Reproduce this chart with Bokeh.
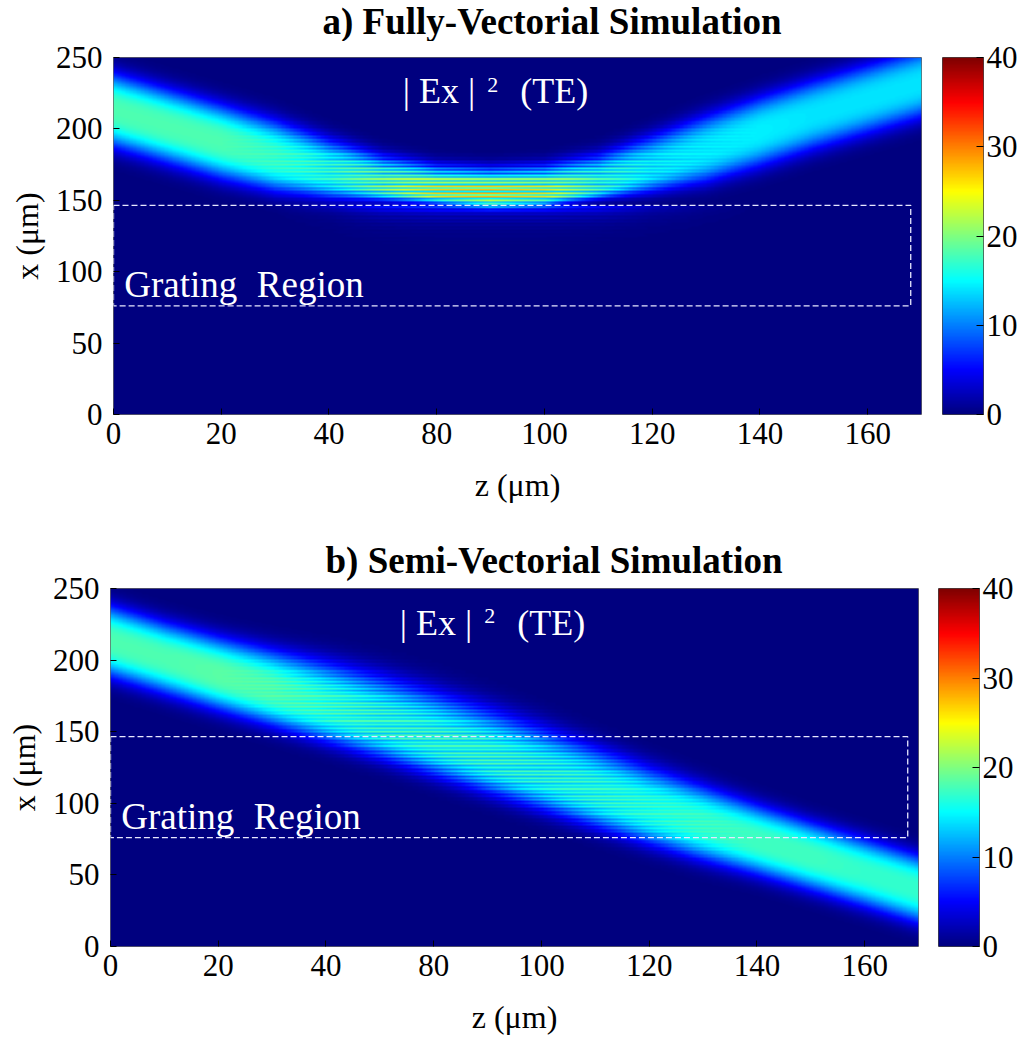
import numpy as np
from bokeh.plotting import figure
from bokeh.models import LinearColorMapper, FixedTicker, Label
from bokeh.layouts import column, row
from bokeh.embed import file_html
from bokeh.resources import INLINE

# ---------------------------------------------------------------------------
# Beam parameters sampled along the propagation axis z (axis units, 0..150)
# ---------------------------------------------------------------------------
z_samples = [0, 10, 20, 30, 40, 50, 60, 70, 80, 90, 100, 110, 120, 130, 140, 150]

# a) fully-vectorial: beam bends onto the grating top and is lifted off again
a_centre = [213, 202, 191, 180, 169, 160, 155, 153, 154, 160, 172, 185, 198, 210, 221, 232]
a_peak   = [18, 18, 18, 18, 18.5, 23, 28, 30, 27, 20, 16, 15, 14.5, 14, 14, 14]
a_w_up   = [25, 25, 25, 25, 23, 20, 18, 18, 19, 21, 23, 24, 24, 24, 24, 24]
a_w_dn   = [25, 25, 25, 23, 17, 10, 7, 7, 7, 9, 16, 22, 24, 24, 24, 24]
a_fringe = [0, 0, 0, 0.1, 0.3, 0.5, 0.55, 0.55, 0.55, 0.45, 0.25, 0.1, 0, 0, 0, 0]
# field leaking just below the grating top
a_leak   = [0, 0, 0, 0, 2, 7, 9, 9, 9, 7, 3, 1, 0, 0, 0, 0]

# b) semi-vectorial: beam crosses the grating region without deflection
b_centre = [213, 201.5, 190, 179, 167.5, 156, 144, 132, 120, 108, 96, 85, 74, 63, 51.5, 40]
b_peak   = [18, 18, 18.5, 19, 19, 19, 19, 19, 18.5, 18.5, 18, 18, 17.5, 17.5, 17, 17]
b_w_up   = [24, 24, 25, 27, 30, 32, 33, 33, 32, 30, 28, 26, 24, 23, 23, 23]
b_w_dn   = [24, 24, 24, 24, 24, 24, 24, 24, 24, 24, 24, 24, 23, 23, 23, 23]
b_fringe = [0, 0, 0, 0.1, 0.25, 0.35, 0.35, 0.35, 0.35, 0.3, 0.2, 0.1, 0, 0, 0, 0]
b_leak   = [0] * 16

fringe_period = 2.5          # µm, horizontal striation spacing
leak_depth = 7.0             # µm, decay length of the leaking field

# grating region outline
grating_bottom = 76
grating_top = 146.5
grating_end = 148

# axes
z_ticks = [0, 20, 40, 60, 80, 100, 120, 140]
z_tick_labels = ["0", "20", "40", "80", "100", "120", "140", "160"]
x_ticks = [0, 50, 100, 150, 200, 250]
cbar_ticks = [0, 10, 20, 30, 40]
z_max, x_max = 150, 250
i_max = 40

SERIF = "Liberation Serif"
PAGE_W = 1027

z_grid = np.linspace(0, z_max, 601)
x_grid = np.linspace(0, x_max, 501)
Z, X = np.meshgrid(z_grid, x_grid)


def field(centre, peak, w_up, w_dn, fringe, leak):
    c = np.interp(z_grid, z_samples, centre)[None, :]
    pk = np.interp(z_grid, z_samples, peak)[None, :]
    wu = np.interp(z_grid, z_samples, w_up)[None, :]
    wd = np.interp(z_grid, z_samples, w_dn)[None, :]
    fr = np.interp(z_grid, z_samples, fringe)[None, :]
    lk = np.interp(z_grid, z_samples, leak)[None, :]
    d = X - c
    w = np.where(d > 0, wu, wd)
    env = pk * np.exp(-np.abs(d / w) ** 3)
    below = X < grating_top
    env = env + np.where(below, lk * np.exp(-(grating_top - X) / leak_depth), 0.0)
    mod = 1 - fr * 0.5 * (1 - np.cos(2 * np.pi * X / fringe_period))
    return (env * mod).astype(np.float32)


def jet(n=256):
    t = np.linspace(0, 1, n)
    r = np.clip(1.5 - np.abs(4 * t - 3), 0, 1)
    g = np.clip(1.5 - np.abs(4 * t - 2), 0, 1)
    b = np.clip(1.5 - np.abs(4 * t - 1), 0, 1)
    return ["#%02x%02x%02x" % (int(rr * 255), int(gg * 255), int(bb * 255))
            for rr, gg, bb in zip(r, g, b)]


JET = jet()


def style_axis(ax):
    ax.axis_line_color = None
    ax.major_tick_in = 6
    ax.major_tick_out = 0
    ax.minor_tick_line_color = None
    ax.major_tick_line_color = "black"
    ax.major_label_text_font = SERIF
    ax.major_label_text_font_size = "31px"
    ax.major_label_text_color = "black"
    ax.axis_label_text_font = SERIF
    ax.axis_label_text_font_size = "32px"
    ax.axis_label_text_font_style = "normal"
    ax.axis_label_text_color = "black"


def add_text(p, x, y, text, size, color="white", style="normal"):
    p.add_layout(Label(x=x, y=y, text=text, text_color=color,
                       text_font=SERIF, text_font_size=size,
                       text_font_style=style, text_baseline="alphabetic"))


def heading(text, height, x_px, y_px):
    # strip holding the bold panel heading, pixel coordinates
    h = figure(width=PAGE_W, height=height, x_range=(0, PAGE_W), y_range=(0, height),
               output_backend="svg", toolbar_location=None, min_border=0)
    h.axis.visible = False
    h.grid.visible = False
    h.outline_line_color = None
    add_text(h, x_px, y_px, text, "37px", "black", "bold")
    return h


def panel(img, left_border, top_border, frame_h, gap, title=None, title_offset=0):
    mapper = LinearColorMapper(palette=JET, low=0, high=i_max)
    p = figure(frame_width=808, frame_height=frame_h,
               x_range=(0, z_max), y_range=(0, x_max),
               output_backend="svg", toolbar_location=None,
               min_border_left=left_border, min_border_top=top_border,
               min_border_bottom=100, min_border_right=gap)
    if title is not None:
        p.title.text = title
        p.title.text_font = SERIF
        p.title.text_font_size = "37px"
        p.title.text_font_style = "bold"
        p.title.text_color = "black"
        p.title.align = "left"
        p.title.offset = title_offset
        p.title.standoff = 16

    p.image(image=[img], x=0, y=0, dw=z_max, dh=x_max, color_mapper=mapper)

    # dashed outline of the grating region
    p.quad(left=0, right=grating_end, bottom=grating_bottom, top=grating_top,
           fill_alpha=0, line_color="#e8e8ff", line_width=1.3, line_dash="6 3")

    add_text(p, 2.0, 91.0, "Grating", "37px")
    add_text(p, 26.6, 91.0, "Region", "37px")
    add_text(p, 53.7, 226.2, "| Ex |", "36px")
    add_text(p, 69.4, 231.0, "2", "22px")
    add_text(p, 75.5, 226.2, "(TE)", "36px")

    p.grid.visible = False
    p.outline_line_color = "#666666"
    p.outline_line_width = 1
    style_axis(p.xaxis[0])
    style_axis(p.yaxis[0])

    p.xaxis.ticker = FixedTicker(ticks=z_ticks)
    p.xaxis.major_label_overrides = {t: s for t, s in zip(z_ticks, z_tick_labels)}
    p.xaxis.major_label_standoff = 8
    p.xaxis.axis_label = "z (μm)"
    p.xaxis.axis_label_standoff = 20
    p.yaxis.ticker = FixedTicker(ticks=x_ticks)
    p.yaxis.major_label_standoff = 11
    p.yaxis.axis_label = "x (μm)"
    p.yaxis.axis_label_standoff = 8

    # colour scale as its own narrow plot beside the field map
    cmap = LinearColorMapper(palette=JET, low=0, high=i_max)
    levels = np.linspace(0, i_max, 256, dtype=np.float32).reshape(256, 1)
    cb = figure(frame_width=41, frame_height=frame_h,
                x_range=(0, 1), y_range=(0, i_max),
                output_backend="svg", toolbar_location=None,
                y_axis_location="right",
                min_border_left=0, min_border_right=44,
                min_border_top=top_border, min_border_bottom=100)
    cb.image(image=[levels], x=0, y=0, dw=1, dh=i_max, color_mapper=cmap)
    cb.xaxis.visible = False
    cb.grid.visible = False
    cb.outline_line_color = "#444444"
    style_axis(cb.yaxis[0])
    cb.yaxis.major_tick_in = 7
    cb.yaxis.ticker = FixedTicker(ticks=cbar_ticks)
    cb.yaxis.major_label_standoff = 3
    return row(p, cb, spacing=0)


img_a = field(a_centre, a_peak, a_w_up, a_w_dn, a_fringe, a_leak)
img_b = field(b_centre, b_peak, b_w_up, b_w_dn, b_fringe, b_leak)

head_a = heading("a) Fully-Vectorial Simulation", 41, 322, 20)
row_a = panel(img_a, 113, 16, 357, 21)
row_b = panel(img_b, 110, 74, 358, 20,
              title="b) Semi-Vectorial Simulation", title_offset=215)

layout = column(head_a, row_a, row_b, spacing=0)
open("out.html", "w").write(file_html(layout, INLINE))
